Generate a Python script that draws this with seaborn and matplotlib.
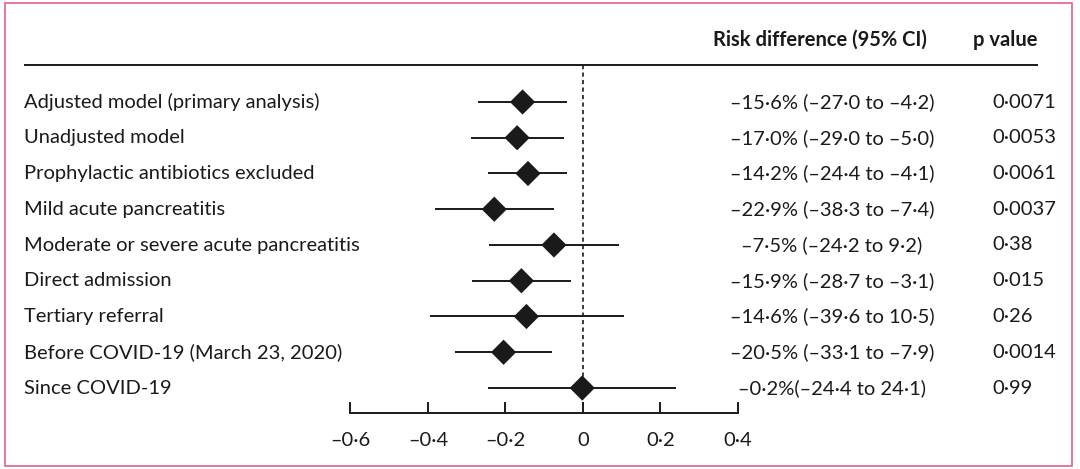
import numpy as np
import pandas as pd
import matplotlib as mpl
import matplotlib.pyplot as plt
import seaborn as sns
from matplotlib.patches import Rectangle

# data (risk difference, %)
labels = ["Adjusted model (primary analysis)", "Unadjusted model",
          "Prophylactic antibiotics excluded", "Mild acute pancreatitis",
          "Moderate or severe acute pancreatitis", "Direct admission",
          "Tertiary referral", "Before COVID-19 (March 23, 2020)", "Since COVID-19"]
rd = [-15.6, -17.0, -14.2, -22.9, -7.5, -15.9, -14.6, -20.5, -0.2]
lo = [-27.0, -29.0, -24.4, -38.3, -24.2, -28.7, -39.6, -33.1, -24.4]
hi = [-4.2, -5.0, -4.1, -7.4, 9.2, -3.1, 10.5, -7.9, 24.1]
ci_text = ["–15·6% (–27·0 to –4·2)", "–17·0% (–29·0 to –5·0)", "–14·2% (–24·4 to –4·1)",
           "–22·9% (–38·3 to –7·4)", "–7·5% (–24·2 to 9·2)", "–15·9% (–28·7 to –3·1)",
           "–14·6% (–39·6 to 10·5)", "–20·5% (–33·1 to –7·9)", "–0·2%(–24·4 to 24·1)"]
p_values = ["0·0071", "0·0053", "0·0061", "0·0037", "0·38", "0·015", "0·26", "0·0014", "0·99"]
ticks = [-0.6, -0.4, -0.2, 0, 0.2, 0.4]

df = pd.DataFrame({"label": labels, "rd": np.array(rd) / 100,
                   "lo": np.array(lo) / 100, "hi": np.array(hi) / 100,
                   "row": np.arange(len(labels))})

sns.set_style("white")
plt.rcParams['font.family'] = ['Lato', 'DejaVu Sans']
ink = "#1a1a1a"
fs = 14.5
lw = 1.4

fig = plt.figure(figsize=(10.8, 4.69), dpi=100)
ax = fig.add_axes([0, (469 - 413) / 469, 1, 413 / 469])
ax.set_facecolor("none")

# CI lines + diamonds
ax.hlines(df.row, df.lo, df.hi, color=ink, lw=lw, zorder=2)
sns.scatterplot(data=df, x="rd", y="row", marker="D", s=165, color=ink,
                edgecolor="none", ax=ax, zorder=3, legend=False)

# pixel mapping: x=0 at 583 px, 0.2 per 77.5 px; rows at 102 px + i*35.75
ppu = 387.5
ax.set_xlim(-583 / ppu, (1080 - 583) / ppu)
row_y = lambda px: (px - 102) / 35.75
ax.set_ylim(row_y(413), row_y(0))

# dashed null line and header rule
ax.plot([0, 0], [row_y(65), row_y(406)], color=ink, lw=1.2, ls=(0, (2.5, 2)), zorder=1)
ax.hlines(row_y(65), (24 - 583) / ppu, (1038 - 583) / ppu, color=ink, lw=lw)

# text columns
for i, r in df.iterrows():
    ax.text((24 - 583) / ppu, r.row, r.label, fontsize=fs, color=ink, va="center", ha="left")
    ax.text((832 - 583) / ppu, r.row, ci_text[i], fontsize=fs, color=ink, va="center", ha="center")
    ax.text((992 - 583) / ppu, r.row, p_values[i], fontsize=fs, color=ink, va="center", ha="left")
ax.text((820 - 583) / ppu, row_y(40), "Risk difference (95% CI)", fontsize=fs,
        fontweight="bold", color=ink, va="center", ha="center")
ax.text((1038 - 583) / ppu, row_y(40), "p value", fontsize=fs,
        fontweight="bold", color=ink, va="center", ha="right")

# x axis
for s in ["top", "left", "right"]:
    ax.spines[s].set_visible(False)
ax.spines["bottom"].set_bounds(-0.6, 0.4)
ax.spines["bottom"].set_color(ink)
ax.spines["bottom"].set_linewidth(lw)
ax.set_xticks(ticks)
ax.set_xticklabels([("–" if t < 0 else "") + f"{abs(t):g}".replace(".", "·") for t in ticks],
                   fontsize=fs)
ax.tick_params(axis="x", bottom=True, direction="in", length=8, width=lw, color=ink,
               pad=14, labelcolor=ink)
ax.set_yticks([])
ax.set_xlabel("")
ax.set_ylabel("")

# pink frame
fig.patches.append(Rectangle((5 / 1080, 3 / 469), 1067 / 1080, 463 / 469,
                             transform=fig.transFigure, fill=False,
                             edgecolor="#dc6484", lw=1.2))

fig.savefig("out.png", dpi=100, facecolor="white")
